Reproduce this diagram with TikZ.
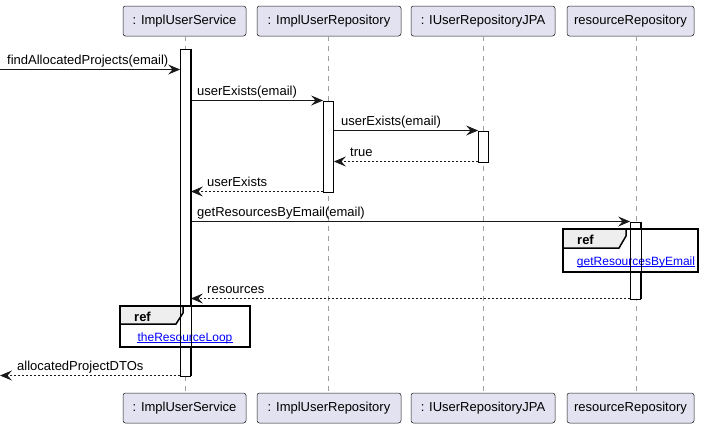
\documentclass[tikz,border=0pt]{standalone}
\usepackage{fontspec}
\setmainfont{Liberation Sans}
\usetikzlibrary{arrows.meta}
\definecolor{partfill}{HTML}{E2E2F0}
\definecolor{partline}{HTML}{181818}
\definecolor{reffill}{HTML}{EEEEEE}
\definecolor{linkblue}{HTML}{0000FF}
\tikzset{
  part/.style={draw=partline, fill=partfill, line width=0.5bp, rounded corners=2.5bp,
    minimum width=#1, minimum height=30bp, inner sep=0pt, font=\fontsize{13bp}{15bp}\selectfont},
  lifeline/.style={draw=gray!75, line width=0.7bp, dash pattern=on 5bp off 5bp},
  actbar/.style={draw=black, fill=white, line width=0.8bp, minimum width=10bp, inner sep=0pt, anchor=north},
  actline/.style={draw=black, line width=0.8bp},
  msg/.style={draw=black!90, line width=0.9bp, -{Stealth[length=12bp,width=10bp,inset=4.5bp]}},
  ret/.style={msg, dash pattern=on 2bp off 2bp},
  lbl/.style={anchor=base west, inner sep=0pt, font=\fontsize{13bp}{15bp}\selectfont},
  refframe/.style={draw=black, line width=1.5bp, fill=white},
  reftab/.style={draw=black, line width=1.5bp, fill=reffill},
  reftitle/.style={anchor=base west, inner sep=0pt, font=\fontsize{13bp}{15bp}\selectfont\bfseries},
  reflink/.style={anchor=base, inner sep=0pt, text=linkblue, font=\fontsize{12bp}{14bp}\selectfont},
  linkul/.style={draw=linkblue, line width=0.7bp},
}
\begin{document}
\begin{tikzpicture}[x=1bp,y=-1bp]
\useasboundingbox[fill=white] (0,0) rectangle (712,428);

% participants
\node[part=123bp] (p1t) at (184.5,21) {: ImplUserService};
\node[part=144bp] (p2t) at (329,21) {: ImplUserRepository};
\node[part=144bp] (p3t) at (483,21) {: IUserRepositoryJPA};
\node[part=127bp] (p4t) at (630.5,21) {resourceRepository};
\node[part=123bp] (p1b) at (184.5,408) {: ImplUserService};
\node[part=144bp] (p2b) at (329,408) {: ImplUserRepository};
\node[part=144bp] (p3b) at (483,408) {: IUserRepositoryJPA};
\node[part=127bp] (p4b) at (630.5,408) {resourceRepository};

% lifelines
\draw[lifeline] (p1t.south -| 185.5,0) -- (p1b.north -| 185.5,0);
\draw[lifeline] (p2t.south -| 328.5,0) -- (p2b.north -| 328.5,0);
\draw[lifeline] (p3t.south -| 483.5,0) -- (p3b.north -| 483.5,0);
\draw[lifeline] (p4t.south -| 636.5,0) -- (p4b.north -| 636.5,0);

% activation bars
\node[actbar, minimum height=327bp] (a1) at (185.5,48.5) {};
\node[actbar, minimum height=91bp] (a2) at (328.5,100.5) {};
\node[actbar, minimum height=31bp] (a3) at (483.5,130.5) {};
\node[actbar, minimum height=77bp] (a4) at (635.5,221.5) {};

% message anchors
\coordinate (m1) at (0,69.5);
\coordinate (m2) at (0,100.5);
\coordinate (m3) at (0,130.5);
\coordinate (m4) at (0,161.5);
\coordinate (m5) at (0,191.5);
\coordinate (m6) at (0,221.5);
\coordinate (m8) at (0,298.5);
\coordinate (m10) at (0,375.5);

% messages
\draw[msg] (m1) -- (a1.west |- m1);
\node[lbl] at (7,64) {findAllocatedProjects(email)};
\draw[msg] (a1.east |- m2) -- (a2.west |- m2);
\node[lbl] at (197,95) {userExists(email)};
\draw[msg] (a2.east |- m3) -- (a3.west |- m3);
\node[lbl] at (341,125) {userExists(email)};
\draw[ret] (a3.west |- m4) -- (a2.east |- m4);
\node[lbl] at (350,156) {true};
\draw[ret] (a2.west |- m5) -- (a1.east |- m5);
\node[lbl] at (207,186) {userExists};
\draw[msg] (a1.east |- m6) -- (a4.west |- m6);
\node[lbl] at (197,216) {getResourcesByEmail(email)};

% ref getResourcesByEmail
\draw[refframe] (563,229) rectangle (698,272);
\draw[reftab] (563,229) -- (626,229) -- (626,236) -- (619,248) -- (563,248) -- cycle;
\node[reftitle] (r1t) at (577,244) {ref};
\node[reflink] (r1l) at (636,265) {getResourcesByEmail};
\draw[linkul] ([yshift=-1.6bp]r1l.base west) -- ([yshift=-1.6bp]r1l.base east);
\draw[actline] (a4.north west) -- (a4.south west) (a4.north east) -- (a4.south east);

\draw[ret] (a4.west |- m8) -- (a1.east |- m8);
\node[lbl] at (207,293) {resources};

% ref theResourceLoop
\draw[refframe] (120,306) rectangle (250,347);
\draw[reftab] (120,306) -- (183,306) -- (183,313) -- (176,324) -- (120,324) -- cycle;
\node[reftitle] (r2t) at (134,321) {ref};
\node[reflink] (r2l) at (185,341) {theResourceLoop};
\draw[linkul] ([yshift=-1.6bp]r2l.base west) -- ([yshift=-1.6bp]r2l.base east);
\draw[actline] (a1.north west) -- (a1.south west) (a1.north east) -- (a1.south east);

\draw[ret] (a1.west |- m10) -- (m10);
\node[lbl] at (17,370) {allocatedProjectDTOs};
\end{tikzpicture}
\end{document}
